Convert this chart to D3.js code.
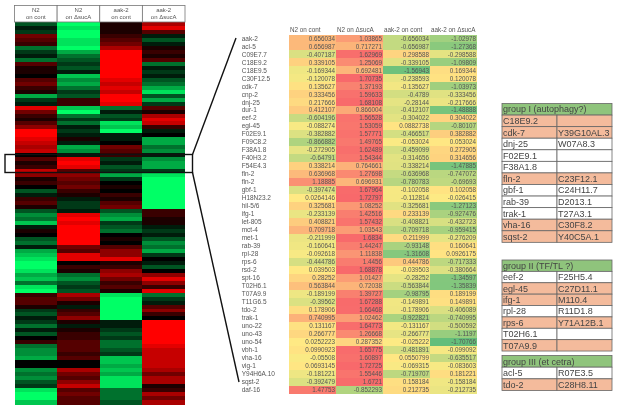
<!DOCTYPE html>
<html><head><meta charset="utf-8">
<script src="https://cdn.jsdelivr.net/npm/d3@7"></script>
<style>html,body{margin:0;padding:0;background:#fff}svg{display:block;filter:blur(0.35px)}text{font-family:"Liberation Sans",Arial,sans-serif}</style>
</head><body><div id="c"></div>
<script>
const heatHeaders=[["N2","on cont"],["N2","on ΔsucA"],["aak-2","on cont"],["aak-2","on ΔsucA"]];
const heatN2Cont=[-3,-1,-2,4,3,2,-4,-2,-1,-4,3,1,1,0,3,4,2,1,-6,-2,-1,8,4,2,1,3,5,9,9,8,7,6,7,0,3,1,2,7,5,1,2,0,-3,-1,2,3,1,-3,-5,-4,-7,-1,1,0,-3,-4,-1,-6,-7,-8,-9,-9,-8,-6,-7,-4,-8,-9,2,3,3,1,-2,-3,-1,-2,-4,-1,-3,0,2,-4,-5,-5,-6,0,0,-5,-4,-5,-3,-2,-8,-9,-9,-7];
const heatN2Suca=[-9,-8,-9,-9,-8,-8,-9,-6,-4,-3,-2,-3,-1,-7,-5,-6,-4,-2,-3,2,2,-7,-9,-4,-2,-4,-1,-2,-1,1,-1,-6,-5,-1,8,9,8,3,5,4,3,4,2,1,-1,-2,-2,-1,8,9,8,9,9,9,9,9,4,3,8,8,0,2,1,-4,-5,-3,-2,-3,6,4,1,-1,2,3,5,1,-1,1,2,2,3,3,3,2,3,0,0,6,4,3,5,7,3,4,3,3];
const heatAakCont=[1,1,1,2,3,4,6,9,9,9,9,9,9,9,8,7,8,7,9,9,8,-4,-1,-3,-2,-8,-7,-9,-1,-1,0,4,3,2,-2,-1,-3,-2,-6,-2,0,1,0,2,1,3,4,-3,-5,-6,-2,-3,-4,0,1,0,3,5,5,8,1,2,5,6,4,2,3,1,-8,-9,-9,-9,-9,-9,-9,-1,-1,-2,-3,-2,-4,-4,-3,-2,-7,-7,-6,-7,-6,-8,-8,-8,-4,-4,-4,-3];
const heatAakSuca=[6,8,3,-1,-3,-1,1,2,1,3,-4,-1,-2,-1,-3,-4,-6,-8,-3,-6,-2,3,1,6,8,7,2,-1,0,-6,-6,-4,-5,-1,-5,-6,-6,-2,-8,-9,-9,-9,-9,-9,-9,-9,-9,2,2,1,1,-1,-2,-1,-3,-5,-4,-6,-2,0,-1,-3,0,5,8,5,2,8,-4,-2,-1,3,5,2,0,9,9,9,9,9,9,8,7,7,7,7,7,6,4,6,6,1,2,6,4,6];

const tableHeaders=["N2 on cont","N2 on ΔsucA","aak-2 on cont","aak-2 on ΔsucA"];
const genes=["aak-2","acl-5","C09E7.7","C18E9.2","C18E9.5","C30F12.5","cdk-7","cnp-2","dnj-25","dur-1","eef-2","egl-45","F02E9.1","F09C8.2","F38A1.8","F40H3.2","F54E4.3","fln-2","fln-2","gbf-1","H18N23.2","hil-5/6","ifg-1","let-805","mct-4","met-1","rab-39","rpl-28","rps-6","rsd-2","spt-16","T02H6.1","T07A9.9","T11G6.5","tdo-2","trak-1","uno-22","uno-43","uno-54","vbh-1","vha-16","vig-1","Y94H6A.10","sqst-2","daf-16"];
const n2Cont=[0.656034,0.656987,-0.407187,0.339105,-0.169344,-0.120078,0.135627,0.333456,0.217666,0.412107,-0.604196,-0.088274,-0.382882,-0.866882,-0.272905,-0.64791,0.338214,0.636968,1.18885,-0.397474,0.0264146,0.325681,-0.233139,0.408821,0.709718,-0.211999,-0.160641,-0.092618,-0.444786,0.039503,0.28252,0.563844,-0.189199,-0.39562,0.178906,0.740995,0.131167,0.266777,0.0252223,0.0990923,-0.05508,0.0693145,-0.181221,-0.392479,1.47753];
const n2Suca=[1.03865,0.717271,1.62969,1.25069,0.692481,1.70735,1.37193,1.59633,1.68108,0.866004,1.56528,1.53059,1.57771,1.49765,1.62489,1.54344,0.764661,1.27698,0.696931,1.67964,1.72797,1.08252,1.42516,1.57432,1.03543,1.6834,1.44247,1.11838,1.4456,1.68878,1.01427,0.72038,1.39727,1.67288,1.66468,1.02462,1.64773,1.26668,0.287352,1.65775,1.60897,1.72725,1.55446,1.6721,-0.852293];
const aakCont=[-0.656034,-0.656987,0.298588,-0.339105,-1.56943,-0.238593,-0.135627,-0.4789,-0.28144,-0.412107,-0.304022,0.0882738,-0.466517,-0.053024,-0.459099,-0.314656,-0.338214,-0.636968,-0.780783,-0.102058,-0.112814,-0.325681,0.233139,-0.408821,-0.709718,0.211999,-0.93148,-1.31608,0.444786,-0.039503,-0.28252,-0.563844,-0.98795,-0.149891,-0.178906,-0.922821,-0.131167,-0.266777,-0.025222,-0.481891,0.0550799,-0.069315,-0.719707,0.158184,0.212735];
const aakSuca=[-1.02978,-1.27368,-0.298588,-1.09809,0.169344,0.120078,-1.03973,-0.333456,-0.217666,-1.48888,0.304022,-0.80107,0.382882,0.053024,0.272905,0.314656,-1.47885,-0.747072,-0.69693,0.102058,-0.026415,-1.27123,-0.927476,-0.432723,-0.959415,-0.276209,0.160641,0.0926175,-0.717333,-0.380664,-1.34597,-1.35839,0.189199,0.149891,-0.406089,-0.740995,-0.500592,-1.1197,-1.70766,-0.099092,-0.635517,-0.083603,0.181221,-0.158184,-0.212735];

const groupTitles=["group I (autophagy?)","group II (TF/TL  ?)","group III (et cetra)"];
const group1=[["C18E9.2","",1],["cdk-7","Y39G10AL.3",1],["dnj-25","W07A8.3",0],["F02E9.1","",0],["F38A1.8","",0],["fln-2","C23F12.1",1],["gbf-1","C24H11.7",0],["rab-39","D2013.1",0],["trak-1","T27A3.1",0],["vha-16","C30F8.2",1],["sqst-2","Y40C5A.1",1]];
const group2=[["eef-2","F25H5.4",0],["egl-45","C27D11.1",1],["ifg-1","M110.4",1],["rpl-28","R11D1.8",0],["rps-6","Y71A12B.1",1],["T02H6.1","",0],["T07A9.9","",1]];
const group3=[["acl-5","R07E3.5",0],["tdo-2","C28H8.11",1]];

const W=622,H=410;
const svg=d3.select("#c").append("svg").attr("width",W).attr("height",H);

// Heatmap
const heatCols=[heatN2Cont,heatN2Suca,heatAakCont,heatAakSuca];
const hx=d3.scaleBand().domain(d3.range(4)).range([14.5,185]);
const hy=d3.scaleBand().domain(d3.range(heatN2Cont.length)).range([22,404]);
const hc=d3.scaleLinear().domain([-9,0,9]).range(["#00ff66","#000000","#ff0000"]);
const hm=svg.append("g").attr("shape-rendering","crispEdges");
heatCols.forEach((col,c)=>{
  hm.selectAll(null).data(col).join("rect")
    .attr("x",hx(c)).attr("y",(d,i)=>hy(i)).attr("width",hx.bandwidth()).attr("height",hy.bandwidth()+0.5)
    .attr("fill",d=>hc(d));
});
// Heatmap header
const hh=svg.append("g");
heatHeaders.forEach((h,c)=>{
  hh.append("rect").attr("x",hx(c)).attr("y",5.5).attr("width",hx.bandwidth()).attr("height",16.5)
    .attr("fill","#fff").attr("stroke","#777").attr("stroke-width",0.8);
  h.forEach((t,k)=>hh.append("text").attr("x",hx(c)+hx.bandwidth()/2).attr("y",12+k*7.2)
    .attr("text-anchor","middle").attr("font-size",6).attr("fill","#555").text(t));
});

// Expression table
const tableCols=[n2Cont,n2Suca,aakCont,aakSuca];
const tx=d3.scaleBand().domain(d3.range(4)).range([289,477]);
const ty=d3.scaleBand().domain(d3.range(genes.length)).range([34.5,393.5]);
const tc=d3.scaleLinear().domain([-1.7,0,1.7]).range(["#63be7b","#ffeb84","#f8696b"]).clamp(true);
const tb=svg.append("g");
tableCols.forEach((col,c)=>{
  tb.selectAll(null).data(col).join("rect")
    .attr("x",tx(c)).attr("y",(d,i)=>ty(i)).attr("width",tx.bandwidth()).attr("height",ty.bandwidth()+0.3)
    .attr("fill",d=>tc(d)).attr("shape-rendering","crispEdges");
  tb.selectAll(null).data(col).join("text")
    .attr("x",tx(c)+tx.bandwidth()-1).attr("y",(d,i)=>ty(i)+ty.bandwidth()/2+2.2)
    .attr("text-anchor","end").attr("font-size",6.3).attr("fill","#555").text(d=>d);
  tb.append("text").attr("x",tx(c)+1).attr("y",32).attr("font-size",6.3).attr("fill","#555").text(tableHeaders[c]);
});
tb.selectAll(null).data(genes).join("text")
  .attr("x",241.7).attr("y",(d,i)=>ty(i)+ty.bandwidth()/2+2.2)
  .attr("font-size",6.5).attr("fill","#555").text(d=>d);

// Highlight box and connectors
svg.append("rect").attr("x",5).attr("y",154.5).attr("width",187.5).attr("height",18)
  .attr("fill","none").attr("stroke","#111").attr("stroke-width",1.4);
const conn=d3.line();
svg.append("path").attr("d",conn([[192.5,154.5],[236,38]])).attr("stroke","#111").attr("stroke-width",1.4).attr("fill","none");
svg.append("path").attr("d",conn([[192.5,172.5],[239,382]])).attr("stroke","#111").attr("stroke-width",1.4).attr("fill","none");

// Group tables
function drawGroup(title,rows,top,rowH){
  const g=svg.append("g");
  const gx=d3.scaleBand().domain([0,1]).range([502,612]);
  const gy=d3.scaleBand().domain(d3.range(rows.length+1)).range([top,top+rowH*(rows.length+1)]);
  const stroke="#666";
  g.append("rect").attr("x",502).attr("y",gy(0)).attr("width",110).attr("height",gy.bandwidth())
    .attr("fill","#8fc47c").attr("stroke",stroke).attr("stroke-width",0.8);
  g.append("text").attr("x",503).attr("y",gy(0)+gy.bandwidth()/2+3.2).attr("font-size",9).attr("fill","#444").text(title);
  rows.forEach((r,i)=>{
    [0,1].forEach(c=>{
      g.append("rect").attr("x",gx(c)).attr("y",gy(i+1)).attr("width",gx.bandwidth()).attr("height",gy.bandwidth())
        .attr("fill",r[2]?"#f4bb9c":"#fff").attr("stroke",stroke).attr("stroke-width",0.8);
      if(r[c]) g.append("text").attr("x",gx(c)+1).attr("y",gy(i+1)+gy.bandwidth()/2+3.2)
        .attr("font-size",9).attr("fill","#444").text(r[c]);
    });
  });
}
drawGroup(groupTitles[0],group1,103.5,11.57);
drawGroup(groupTitles[1],group2,260,11.38);
drawGroup(groupTitles[2],group3,355.5,11.67);
</script></body></html>
